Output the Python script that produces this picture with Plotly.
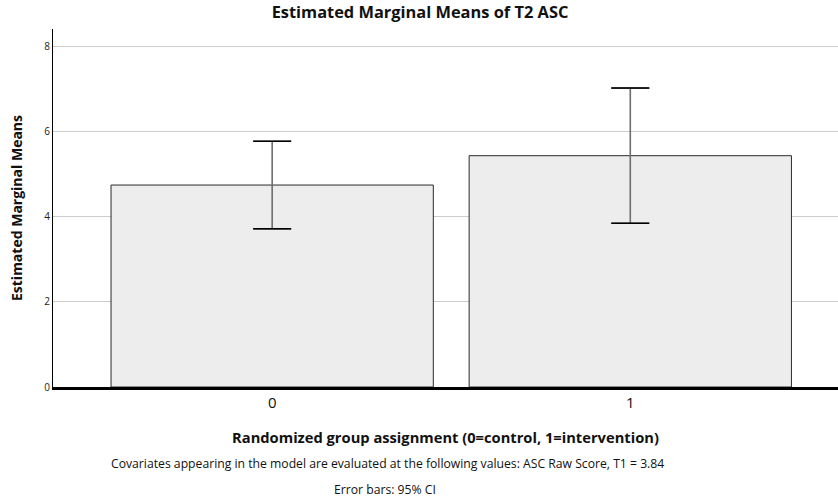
import plotly.graph_objects as go

categories = ["0", "1"]
means = [4.75, 5.44]
ci_upper = [5.78, 7.03]
ci_lower = [3.72, 3.85]
y_ticks = [0, 2, 4, 6, 8]

err_plus = [u - m for u, m in zip(ci_upper, means)]
err_minus = [m - l for l, m in zip(ci_lower, means)]

FONT = "Open Sans"

W, H = 838, 499
ML, MT, MB = 53, 29, 112
PH = H - MT - MB

fig = go.Figure()
fig.add_trace(go.Bar(
    x=[0, 1], y=means, width=0.9,
    marker=dict(color="#ededed", line=dict(color="#2a2a2a", width=1)),
    error_y=dict(type="data", symmetric=False, array=err_plus, arrayminus=err_minus,
                 color="#6e6e6e", thickness=1.6, width=19),
    hoverinfo="skip",
))
# black caps on top of the grey stems
for vals in (ci_upper, ci_lower):
    fig.add_trace(go.Scatter(
        x=[0, 1], y=vals, mode="markers", marker=dict(opacity=0, size=1),
        error_y=dict(type="data", array=[0, 0], color="black", thickness=1.5, width=19),
        hoverinfo="skip",
    ))

fig.update_layout(
    width=W, height=H,
    margin=dict(l=ML, r=0, t=MT, b=MB),
    plot_bgcolor="white", paper_bgcolor="white",
    showlegend=False,
    font=dict(family=FONT, color="#111"),
    title=dict(text="<b>Estimated Marginal Means of T2 ASC</b>", x=420 / W, xanchor="center",
               y=1 - 12 / H, yanchor="middle", font=dict(size=16.4, family=FONT)),
    xaxis=dict(range=[-0.612, 1.58], tickvals=[0, 1], ticktext=categories,
               showgrid=False, zeroline=False, showline=True, linecolor="black", linewidth=3,
               ticks="", tickfont=dict(size=15, color="#111", family=FONT),
               title=dict(text="<b>Randomized group assignment (0=control, 1=intervention)</b>",
                          font=dict(size=14.7, family=FONT), standoff=22)),
    yaxis=dict(range=[0, 8.42], tickvals=y_ticks, showgrid=True, gridcolor="#cccccc",
               gridwidth=1, zeroline=False, showline=True, linecolor="black", linewidth=1,
               ticks="", tickfont=dict(size=10, color="#222", family=FONT),
               title=dict(text="<b>Estimated Marginal Means</b>", font=dict(size=14, family=FONT),
                          standoff=18)),
)

fig.add_annotation(text="Covariates appearing in the model are evaluated at the following values: ASC Raw Score, T1 = 3.84",
                   xref="paper", yref="paper", x=(387 - ML) / (W - ML), y=-(464 - 387) / PH,
                   xanchor="center", yanchor="middle", showarrow=False,
                   font=dict(size=12.2, family=FONT, color="#111"))
fig.add_annotation(text="Error bars: 95% CI",
                   xref="paper", yref="paper", x=(385 - ML) / (W - ML), y=-(490 - 387) / PH,
                   xanchor="center", yanchor="middle", showarrow=False,
                   font=dict(size=12.2, family=FONT, color="#111"))

fig.write_html("out.html", config={"displayModeBar": False},
               post_script="document.body.style.margin='0';document.body.style.overflow='hidden';")
